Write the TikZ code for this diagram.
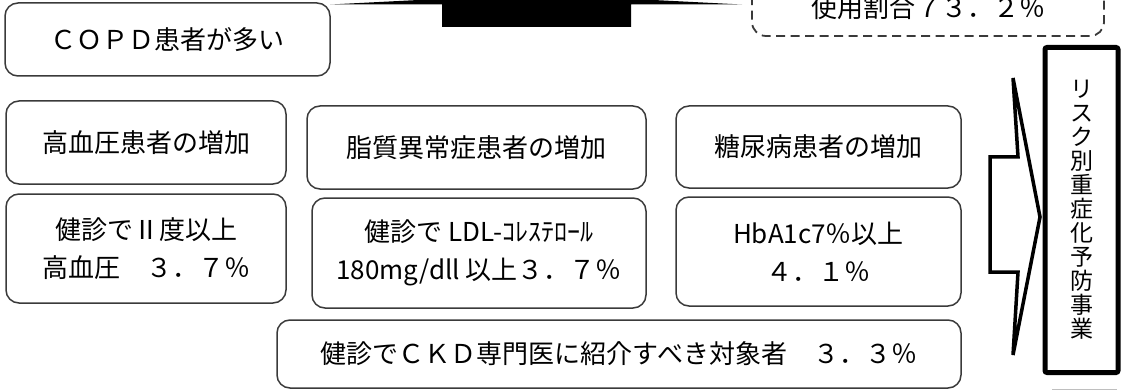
\documentclass[tikz,border=0pt]{standalone}
\usepackage{fontspec}
\setmainfont{Noto Sans CJK JP}
\definecolor{edge}{HTML}{3A3A3A}
\begin{document}
\begin{tikzpicture}[x=1pt,y=-1pt,
  rbox/.style={draw=edge, line width=1.5pt, rounded corners=13pt, inner sep=0pt, align=center,
     font=\fontsize{26}{38}\selectfont},
  dbox/.style={draw=edge, line width=1.8pt, dash pattern=on 9pt off 5.5pt, rounded corners=14pt, inner sep=0pt,
     font=\fontsize{26}{30}\selectfont},
  goal/.style={draw=black, line width=5pt, rounded corners=2pt, inner sep=0pt, align=center,
     font=\fontsize{23}{24}\selectfont},
]
\useasboundingbox (0,0) rectangle (1123,390);
\clip (0,0) rectangle (1123,390);
% top black arrow (cropped)
\fill[black] (330,4.5) -- (536,-6) -- (742,4.5) -- (631,4.5) -- (631,27) -- (442,27) -- (442,4.5) -- cycle;
% dashed box (cropped)
\node[dbox, minimum width=352pt, minimum height=56pt] (usage) at (928,8) {使用割合７３．２％};
% boxes
\node[rbox, minimum width=325pt, minimum height=73pt] (copd) at (167.5,39.5) {ＣＯＰＤ患者が多い};
\node[rbox, minimum width=280pt, minimum height=83pt] (htnh) at (146,142.5) {高血圧患者の増加};
\node[rbox, minimum width=339pt, minimum height=83pt] (liph) at (476.5,147.5) {脂質異常症患者の増加};
\node[rbox, minimum width=285pt, minimum height=82pt] (dmh) at (818.5,147) {糖尿病患者の増加};
\node[rbox, minimum width=280pt, minimum height=109pt] (htnd) at (146,248.5) {健診でⅡ度以上\\高血圧　３．７％};
\node[rbox, minimum width=334pt, minimum height=110pt] (lipd) at (479,253) {健診で LDL-ｺﾚｽﾃﾛｰﾙ\\180mg/dll 以上３．７％};
\node[rbox, minimum width=285pt, minimum height=109pt] (dmd) at (818.5,251.5) {HbA1c7％以上\\４．１％};
\node[rbox, minimum width=684pt, minimum height=68pt] (ckd) at (619,354) {健診でＣＫＤ専門医に紹介すべき対象者　３．３％};
% right arrow
\draw[line width=3.5pt, line join=miter, fill=white] (990,157) -- (1018,157) -- (1013,78) -- (1040,217) -- (1013,355) -- (1018,272) -- (990,272) -- cycle;
% goal box
\node[goal, minimum width=73pt, minimum height=325pt] (goal) at (1081.5,210)
  {リ\\ス\\ク\\別\\重\\症\\化\\予\\防\\事\\業};
% faint line at bottom right (cropped element)
\draw[gray!50, line width=1pt] (1052,389) -- (1117,389);
\end{tikzpicture}
\end{document}
